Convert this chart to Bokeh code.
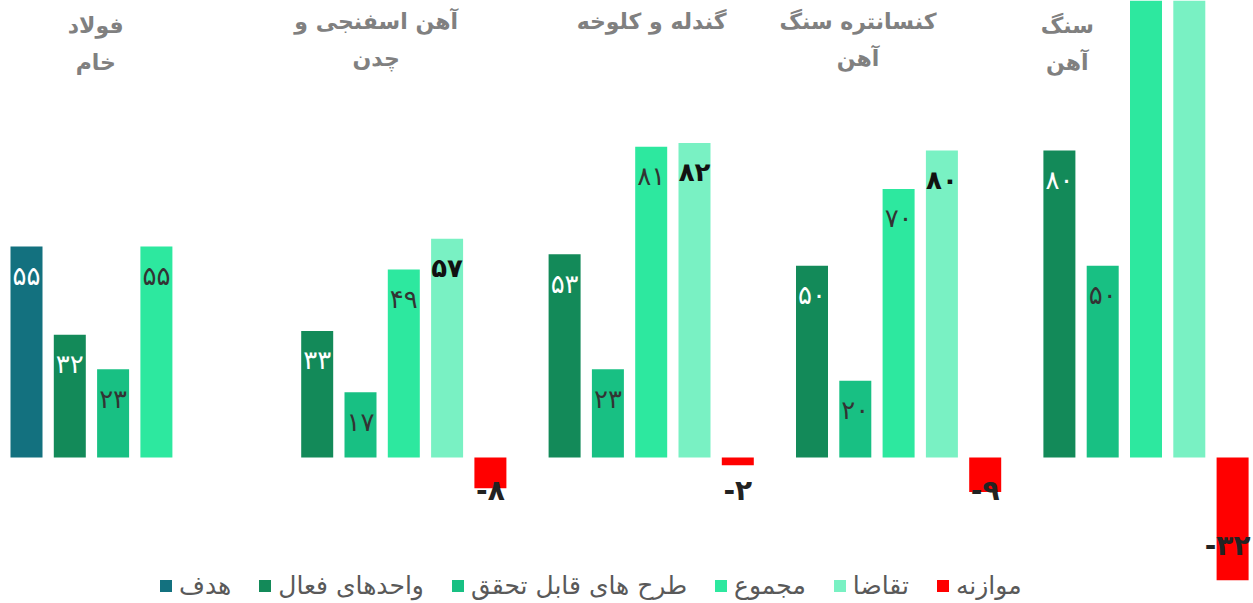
from bokeh.plotting import figure
from bokeh.models import Range1d, Legend, LegendItem
from bokeh.core.properties import value
from bokeh.embed import file_html
from bokeh.resources import INLINE

# ---------------- data ----------------
categories = ["فولاد خام", "آهن اسفنجی و چدن", "گندله و کلوخه", "کنسانتره سنگ آهن", "سنگ آهن"]
category_lines = ["فولاد\nخام", "آهن اسفنجی و\nچدن", "گندله و کلوخه", "کنسانتره سنگ\nآهن", "سنگ\nآهن"]
series_names = ["هدف", "واحدهای فعال", "طرح های قابل تحقق", "مجموع", "تقاضا", "موازنه"]
target = [55, None, None, None, None]
active = [32, 33, 53, 50, 80]
feasible = [23, 17, 23, 20, 50]
total = [55, 49, 81, 70, 130]
demand = [None, 57, 82, 80, 162]
balance = [None, -8, -2, -9, -32]

series_values = [target, active, feasible, total, demand, balance]

# ---------------- styling / layout ----------------
colors = ["#13717f", "#138a59", "#18c083", "#2de89f", "#79f1c3", "#ff0000"]
label_colors = ["#ffffff", "#ffffff", "#333333", "#333333", "#111111", "#222222"]
label_styles = ["normal", "normal", "normal", "normal", "bold", "bold"]
label_sizes = ["26px", "26px", "26px", "26px", "26px", "28px"]
FONT = "DejaVu Sans"

W, H = 1253, 603
GROUP_PX = 247.4
SLOT = 43.3 / GROUP_PX
BAR_W = 32 / GROUP_PX
FIRST_CENTRE_PX = 134.25
BASE_PX = 457
PX_PER_UNIT = 3.836
X_START = -FIRST_CENTRE_PX / GROUP_PX
X_END = (W - FIRST_CENTRE_PX) / GROUP_PX
Y_TOP = BASE_PX / PX_PER_UNIT
Y_BOTTOM = -(H - BASE_PX) / PX_PER_UNIT

POS_INSET = 29.5 / PX_PER_UNIT
NEG_INSET = 35 / PX_PER_UNIT
NEG_MIN = 33 / PX_PER_UNIT
LABEL_HALF = 14 / PX_PER_UNIT
LABEL_HALF_W = 24 / GROUP_PX       # approx. half width of a label, in x units
EDGE_PAD = 3 / GROUP_PX

title_dx = [-39, -6, 22, -19, -57]   # px, relative to group centre
title_top = [12, 8, 8, 8, 12]         # px from top of frame


def to_fa(n):
    digits = "۰۱۲۳۴۵۶۷۸۹"
    s = str(abs(int(n)))
    s = "".join(digits[int(c)] for c in s)
    return ("-" + s) if n < 0 else s


p = figure(width=W, height=H, x_range=Range1d(X_START, X_END),
           y_range=Range1d(Y_BOTTOM, Y_TOP), output_backend="svg",
           toolbar_location=None, x_axis_location=None, y_axis_location=None,
           min_border=0, outline_line_color=None)
p.grid.visible = False
p.background_fill_color = "white"

legend_items = []
for j, (name, vals) in enumerate(zip(series_names, series_values)):
    xs, tops = [], []
    lx, labs, ly, la = [], [], [], []
    for i, v in enumerate(vals):
        if v is None:
            continue
        x = i + (j - 2.5) * SLOT
        xs.append(x)
        tops.append(v)
        y = v - POS_INSET if v >= 0 else min(v + NEG_INSET, -NEG_MIN)
        # a label whose bar runs off the chart is not shown
        if y + LABEL_HALF <= Y_TOP:
            labs.append(to_fa(v))
            ly.append(y)
            if x + LABEL_HALF_W > X_END - EDGE_PAD:
                lx.append(X_END - EDGE_PAD)
                la.append("right")
            else:
                lx.append(x)
                la.append("center")
    r = p.vbar(x=xs, top=tops, bottom=0, width=BAR_W,
               fill_color=colors[j], line_color=None)
    p.text(x=lx, y=ly, text=labs, text_align=la,
           text_baseline="middle", text_font=value(FONT), text_font_size=label_sizes[j],
           text_font_style=label_styles[j], text_color=label_colors[j])
    legend_items.append(LegendItem(label=name, renderers=[r]))

# category titles
tx = [i + title_dx[i] / GROUP_PX for i in range(len(categories))]
ty = [Y_TOP - title_top[i] / PX_PER_UNIT for i in range(len(categories))]
p.text(x=tx, y=ty, text=category_lines, text_align="center", text_baseline="top",
       text_font=value(FONT), text_font_size="22px", text_font_style="bold",
       text_color="#808080", text_line_height=1.5)

legend = Legend(items=legend_items, orientation="horizontal", location=(158, 3),
                glyph_width=15, glyph_height=15, label_standoff=6, spacing=26,
                padding=0, margin=0, border_line_color=None, background_fill_alpha=0,
                label_text_font=FONT, label_text_font_size="25px",
                label_text_color="#595959", label_height=26)
p.add_layout(legend)

open("out.html", "w").write(file_html(p, INLINE))
